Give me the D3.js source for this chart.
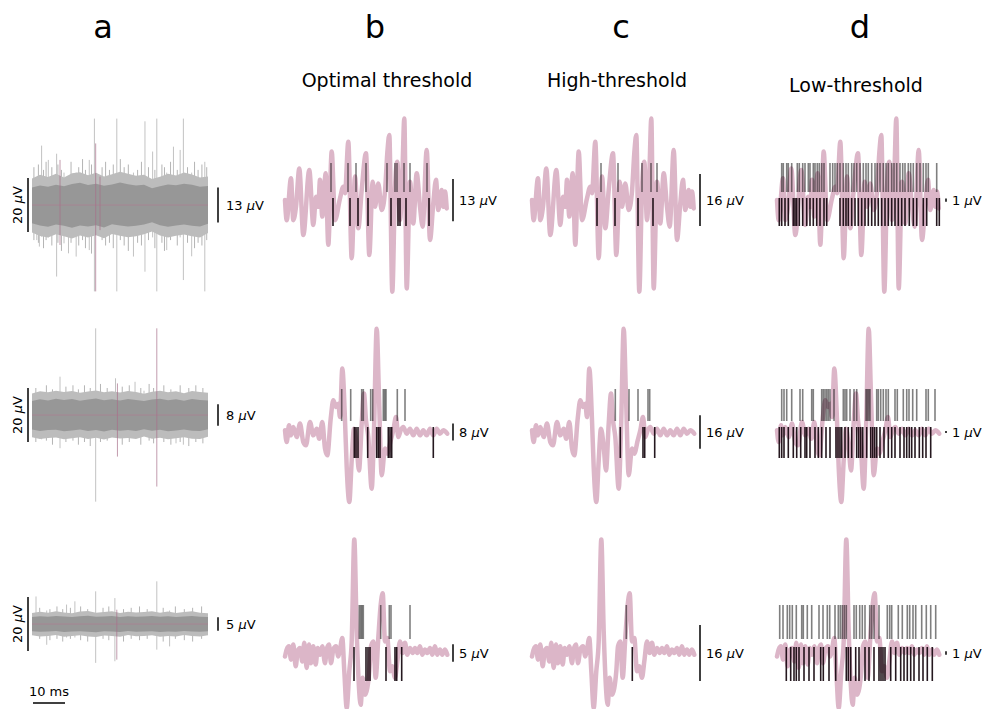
<!DOCTYPE html>
<html>
<head>
<meta charset="utf-8">
<script src="https://cdn.jsdelivr.net/npm/d3@7"></script>
<style>
  body { margin: 0; background: #fff; }
  text { font-family: "DejaVu Sans", sans-serif; fill: #000; }
</style>
</head>
<body>
<script>
'use strict';

// ---- data ----
// column a: noise band envelopes (uV) sampled every 2.5 ms
const noiseT = [0, 2.5, 5, 7.5, 10, 12.5, 15, 17.5, 20, 22.5, 25, 27.5, 30, 32.5, 35, 37.5, 40, 42.5, 45, 47.5, 50, 52.5, 55];
const innerHi1 = [6.5, 7.2, 6.8, 7.5, 6.9, 7.8, 8.2, 7.4, 7.9, 7.1, 7.6, 8.3, 7.7, 7.2, 7.5, 6.2, 6.9, 7.6, 7.3, 7.9, 7.5, 6.8, 7.0];
const innerLo1 = [-6.8, -7.6, -8.1, -7.2, -7.7, -8.4, -7.6, -8.0, -7.5, -8.3, -7.1, -7.6, -8.0, -7.7, -7.2, -6.4, -7.5, -8.1, -7.6, -7.2, -7.7, -8.0, -6.9];
const outerHi1 = [9.8, 11.2, 10.4, 11.6, 10.2, 11.8, 12.1, 11.0, 11.9, 10.6, 11.4, 12.3, 11.6, 10.8, 11.2, 9.6, 10.5, 11.6, 10.9, 12.0, 11.3, 10.2, 10.6];
const outerLo1 = [-10.2, -11.5, -12.0, -10.8, -11.6, -12.4, -11.3, -12.0, -11.2, -12.3, -10.7, -11.4, -11.9, -11.6, -10.8, -9.8, -11.3, -12.0, -11.4, -10.9, -11.6, -12.0, -10.4];
const innerHi2 = [5.2, 5.8, 5.4, 6.0, 5.6, 5.9, 5.3, 5.7, 6.1, 5.5, 5.8, 5.4, 5.9, 5.6, 5.2, 5.7, 6.0, 5.5, 5.8, 5.3, 5.9, 5.6, 5.4];
const innerLo2 = [-5.4, -5.9, -5.6, -5.5, -6.0, -5.7, -5.4, -5.9, -5.6, -6.1, -5.5, -5.8, -5.6, -5.9, -5.3, -5.8, -5.5, -6.0, -5.7, -5.4, -5.8, -5.9, -5.3];
const outerHi2 = [8.0, 8.8, 8.4, 9.0, 8.5, 8.9, 8.2, 8.7, 9.1, 8.4, 8.8, 8.3, 8.9, 8.5, 7.9, 8.6, 9.0, 8.4, 8.8, 8.1, 8.9, 8.5, 8.2];
const outerLo2 = [-8.2, -8.9, -8.5, -8.3, -9.0, -8.6, -8.2, -8.9, -8.4, -9.1, -8.3, -8.7, -8.5, -8.9, -8.0, -8.8, -8.4, -9.0, -8.6, -8.2, -8.8, -8.9, -8.1];
const innerHi3 = [2.6, 2.9, 2.7, 3.0, 2.8, 2.6, 2.9, 3.1, 2.7, 2.8, 3.0, 2.6, 2.9, 2.7, 2.8, 3.0, 2.7, 2.9, 2.6, 2.8, 3.0, 2.7, 2.6];
const innerLo3 = [-2.7, -2.9, -2.8, -2.6, -3.0, -2.8, -2.7, -2.9, -3.1, -2.7, -2.8, -3.0, -2.6, -2.9, -2.8, -2.7, -3.0, -2.8, -2.9, -2.6, -2.8, -2.9, -2.7];
const outerHi3 = [4.1, 4.5, 4.2, 4.7, 4.3, 4.0, 4.6, 4.8, 4.2, 4.4, 4.7, 4.1, 4.5, 4.3, 4.4, 4.7, 4.2, 4.6, 4.1, 4.4, 4.7, 4.2, 4.0];
const outerLo3 = [-4.2, -4.6, -4.4, -4.1, -4.7, -4.4, -4.2, -4.6, -4.8, -4.3, -4.4, -4.7, -4.1, -4.5, -4.4, -4.2, -4.7, -4.4, -4.6, -4.1, -4.4, -4.6, -4.2];

// column a: isolated excursions [t ms, top uV, bottom uV]
const spikesA1 = [[1.5, 9, -13], [2.3, 10, -15.4], [3.0, 22, -11.7], [5.1, 16.7, -12], [7.7, 19, -26.5], [10, 12, -14.2],
  [11.4, 10, -17.9], [13.8, 12, -19.1], [17.9, 16.7, -16.7], [19.5, 32, -32], [26.5, 32, -32], [31.7, 12, -19.1],
  [35.3, 31, -24.7], [37.7, 19.8, -12], [39, 32, -32], [42.1, 12, -16.7], [44.2, 21.6, -10], [46.3, 20.4, -12],
  [47.3, 32, -27.8], [49.9, 12, -19], [54, 16, -32]];
// short whiskers on the band edges
const whiskersA1 = [[0.6, 14, -13], [2.0, 15, -14], [3.6, 13, -16], [4.4, 16, -13], [6.2, 14, -15], [8.1, 15, -14],
  [9.2, 13, -17], [12.2, 16, -14], [14.6, 14, -15], [15.8, 17, -13], [16.7, 13, -16], [18.6, 15, -18], [21.9, 14, -13],
  [23.0, 16, -15], [24.2, 13, -14], [25.4, 15, -16], [27.6, 17, -13], [28.8, 14, -15], [30.1, 15, -17], [33.0, 13, -14],
  [34.2, 16, -15], [36.4, 14, -13], [38.4, 13, -16], [40.6, 15, -14], [41.4, 14, -17], [43.3, 16, -13], [45.4, 13, -15],
  [48.6, 14, -14], [50.8, 16, -16], [51.9, 13, -14], [53.1, 15, -15], [54.6, 14, -13]];
const spikesA2 = [[3, 8, -9], [8.75, 14.2, -12.3], [19.9, 32.1, -32.1], [26.1, 13.6, -8], [32.2, 12.3, -8], [35, 9, -6],
  [45, 8, -10.5], [47.3, 7, -11]];
const whiskersA2 = [[1.2, 10, -10], [4.5, 11, -9.5], [6.4, 9.5, -11], [10.6, 10.5, -10], [12.8, 11, -9.5], [14.5, 9.5, -11],
  [16.4, 11, -10], [18.2, 10, -11.5], [21.4, 11.5, -10], [23.5, 10, -9.5], [28.2, 10.5, -11], [30.4, 11, -10],
  [34.0, 10, -11], [36.6, 11.5, -9.5], [38.0, 10, -10.5], [41.2, 11, -10], [43.4, 9.5, -11], [46.3, 11, -10],
  [49.0, 10, -11.5], [51.2, 11, -10], [53.4, 10, -10.5]];
const spikesA3 = [[1.25, 10.2, -4], [4.6, 5, -7.7], [10.8, 7.2, -5], [13.4, 8.4, -5], [19.9, 12.1, -14.4], [25.9, 9.6, -13.8],
  [39, 15.8, -9.5], [43, 5, -8.3]];
const whiskersA3 = [[2.4, 6, -5.5], [5.6, 5.5, -6], [7.8, 6.5, -5.5], [9.6, 5.5, -6.5], [12.0, 6, -5.5], [15.2, 6.5, -6],
  [17.4, 5.5, -6.5], [22.2, 6, -5.5], [24.0, 6.5, -6], [28.6, 5.5, -6.5], [31.0, 6, -5.5], [33.6, 6.5, -6],
  [36.0, 5.5, -5.5], [41.0, 6, -6.5], [44.8, 6.5, -5.5], [47.6, 5.5, -6], [50.2, 6, -6.5], [53.0, 6.5, -5.5]];
const pinkA1 = [[8.75, 16.7, -14.8], [19.9, 22.8, -32], [21.25, 10.5, -9.3]];
const pinkA2 = [[26.7, 11.7, -15.4], [39, 32.1, -26.5]];
const pinkA3 = [[26.5, 5.3, -13.2]];

// columns b-d: average waveform per row [sample, uV]
const wave1 = [[0, 0], [1.7, -6.2], [6, 6.7], [8.3, -6.2], [11, -2.1], [14.3, 9.7], [18.3, -10.8], [24.3, 9.2], [28.3, -7.7],
  [31, 1.0], [33.3, -2.1], [35, 6.2], [37.3, -5.1], [40.7, 8.2], [43.3, -13.8], [46.7, 14.9], [50, -6.2], [55, 0.5],
  [58.3, 4.1], [60, 2.1], [63.3, 17.9], [66.7, -17.9], [70, 7.2], [73.3, -8.7], [76.7, 3.1], [81, 14.4], [84.3, -16.9],
  [87.7, 5.6], [90, -2.1], [93.3, 5.1], [96.7, -3.1], [100, 2.6], [102.3, 14.4], [104.3, 20], [107.3, -28.2], [110, 3.6],
  [112.3, 11.8], [115, -6.2], [117.3, 7.2], [119.3, 25.1], [121.7, -27.2], [125, 5.6], [128.3, -7.2], [131.7, 8.2],
  [135, -2.1], [137.7, -8.2], [141.7, 15.4], [145, -12.3], [148.3, -1.0], [151, 6.2], [153.3, -3.1], [156.7, 3.1],
  [158.3, -2.1], [160, 2.6], [161.7, -2.6]];
const wave2 = [[0, 0.8], [1.7, -4.8], [4, 3.2], [6, -1.6], [8.3, 2.4], [11.7, -2.4], [15, 4], [18.3, -4.8], [21, -6.3],
  [25, 4.8], [28.3, -1.6], [31.7, 1.6], [34.3, -3.2], [37.3, 4.8], [40, -7.9], [42.3, -11.1], [45.7, 6.3], [48.3, 15.1],
  [51, 11.9], [53.3, 13.5], [55, 7.1], [57.3, 30.2], [60, 5.6], [61.7, -16.7], [64.3, -33.3], [66.7, -13.5], [69, 1.6],
  [71.7, -7.1], [74, -18.3], [76.7, 4], [79, 18.3], [81, 5.6], [83.3, -2.4], [86.7, -27], [89, 0.8], [91.7, 49.2],
  [94, 16.7], [96.7, -20.6], [100, -7.9], [102.3, -10.3], [105.7, -4], [108.3, 0.8], [111, 7.1], [113.3, -2.4],
  [115.7, 0.8], [118.3, 2.4], [121.7, -0.8], [125, 1.6], [128.3, -1.6], [131.7, 1.6], [135, -1.6], [138.3, 0.8],
  [141.7, -1.6], [145, 1.6], [148.3, -1.6], [151.7, 1.6], [155, -0.8], [158.3, 0.8], [162.3, -0.8]];
const wave3 = [[0, -1.0], [1.7, 1.0], [4, 1.9], [6, -1.9], [8.3, 2.4], [10.7, -3.8], [12.7, 0.5], [15, 1.4], [17.3, -2.4],
  [19.3, 2.9], [21.7, -4.3], [24, 2.4], [26, -2.9], [28.3, 1.9], [30.7, -3.3], [32.7, 1.4], [35, -0.5], [37.3, 1.9],
  [40, -2.9], [41.7, 1.0], [44, 2.4], [46, -2.9], [48.3, 1.0], [51, 1.9], [53.3, -1.0], [55, 1.0], [57.3, 4.3],
  [59.3, -5.2], [61.7, -15.7], [64.3, -5.2], [66.7, 3.3], [69.3, 32.4], [71.7, 6.2], [74, -10.0], [75.7, -14.8],
  [77.7, -7.1], [80, -11.9], [82.3, -10.0], [84.3, -5.2], [86, 1.9], [88.3, 3.3], [90.7, -7.1], [93.3, 4.3], [95.7, 13.8],
  [97.7, 17.1], [100, 3.3], [102.3, 4.3], [105, -5.2], [107.3, -3.8], [110, -7.1], [112.3, -2.4], [115, 3.3],
  [117.7, 0], [120, 2.9], [122.3, -0.5], [125, 1.4], [127.7, 0], [130, 1.4], [132.3, 0], [135, 1.9], [137.3, -0.5],
  [140, 1.0], [142.3, 0], [145, 1.4], [147.3, -0.5], [150, 1.9], [152.3, -0.5], [155, 1.0], [157.3, -0.5], [160, 1.0],
  [162.3, -0.5]];

// detected spike times (samples): [upper grey raster, lower black raster] per row
const optimalTicks = [
  [[46, 63, 71, 81, 102, 110, 112, 119, 125, 142], [48, 65, 73, 83, 106, 113, 115, 121, 144]],
  [[56.7, 65.7, 76.7, 78.3, 85.7, 87.7, 98.3, 99.7, 101, 112.3, 120], [69.3, 71, 73, 82.7, 91.7, 93.3, 95, 103.3, 105, 106.7, 148.3]],
  [[74.3, 75.7, 77, 78.3, 95.7, 104.3, 106, 125], [69, 81, 83, 85, 101, 110, 111.7, 116.7]]
];
const highTicks = [
  [[69, 86, 110, 119, 125], [65, 83, 106, 121]],
  [[83.3, 97, 106, 116, 117.7], [88.3, 111, 112.7, 122.7]],
  [[94.3], [100.3]]
];
const lowTicks = [
  [[4.7, 6.3, 9.7, 11.3, 14.7, 20.3, 22.3, 25.7, 28, 31.3, 33, 36.3, 38, 40.3, 42.3, 44.7, 47, 53, 55.7, 58, 60.3, 63,
    66.3, 69, 71.3, 74.7, 77, 79.7, 83, 86.3, 89, 91.3, 94.7, 98, 100.3, 103, 106.3, 109, 111.3, 114.7, 117, 119.7, 123,
    125.7, 128, 131.3, 133.7, 136.3, 139.7, 143, 146.3, 149, 151.3, 159.7],
   [2.3, 4.7, 8, 11.3, 16.3, 18, 19.7, 22.3, 25.7, 29.7, 33, 36.3, 39.7, 43, 47, 49.7, 63, 66.3, 69, 71.3, 74.7, 78, 81.3,
    84.7, 88, 91.3, 94.7, 98, 101.3, 104.7, 108, 111.3, 114.7, 118, 121.3, 124.7, 128, 132.3, 136.3, 139.7, 146.3, 149.7,
    159.7, 162.3]],
  [[4.7, 7, 9.7, 14.7, 23, 25.7, 34.7, 36.3, 44.7, 46.3, 48, 49.7, 51.3, 53, 57, 66.3, 68, 69.7, 73, 77, 79.7, 89, 90.3,
    91.7, 93, 99.7, 101.3, 103.7, 106.3, 109, 111.3, 118, 120.3, 126.3, 129.7, 132, 135.7, 139.7, 149, 151.3, 158],
   [2.3, 4.7, 7, 11.3, 16.3, 19.7, 23.7, 28, 29.7, 33, 38, 41.3, 44.7, 49, 53, 59, 61, 63, 64.7, 68, 71.3, 74.7, 79.7,
    81.7, 83.7, 85.7, 89.7, 93.7, 95.7, 97.7, 99.7, 103, 107, 111.3, 114.7, 118, 123, 127, 129.7, 132.3, 134.7, 138,
    142.3, 145.7, 149, 153.7]],
  [[2.7, 6, 10.3, 12.7, 15.3, 19.3, 24.7, 26.3, 30.3, 34.7, 42, 46, 50.3, 52.7, 58, 61.3, 63.3, 65.3, 67.3, 69.3, 77,
    79.3, 82.7, 85.3, 88, 92.7, 94.7, 97, 102, 110.3, 112.7, 114.7, 121.3, 125.3, 130.3, 132.7, 136, 138.7, 144.7,
    149.3, 153.7, 158.7],
   [9.3, 13.7, 17, 19.3, 22, 27, 32, 37, 43.7, 46.3, 52, 58.7, 69.3, 71.3, 73.7, 78.7, 82, 88, 92, 97, 102, 104, 106,
    108, 113.7, 118.7, 123.7, 127, 130.3, 133.7, 137, 142, 146, 150.3, 155.3]]
];

// scale-bar values (uV)
const barsA = [13, 8, 5];
const barsOptimal = [13, 8, 5];
const barsHigh = [16, 16, 16];
const barsLow = [1, 1, 1];
const panelLetters = ['a', 'b', 'c', 'd'];
const panelTitles = ['', 'Optimal threshold', 'High-threshold', 'Low-threshold'];

// ---- layout ----
const W = 987, H = 709;
const svg = d3.select('body').append('svg')
  .attr('width', W)
  .attr('height', H);
svg.append('rect').attr('width', W).attr('height', H).attr('fill', '#fff');

const pink = '#dcb6c8';
const rowA = [205, 415, 624];      // col a baselines
const rowW = [200, 432, 653];      // col b-d baselines
const gainA = 2.7;                 // px per uV in col a
const gainW = [3.25, 2.1, 3.5];    // px per uV per row, cols b-d
const greyTick = [[-37, -8], [-43, -11], [-48, -14]];
const blackTick = [[-2, 26], [-5, 26], [-6, 28]];
const colStart = [285, 532, 777];
const barX = [453, 700, 946];

// titles
const letterX = [103, 375, 621, 860];
panelLetters.forEach((l, i) => {
  svg.append('text').attr('x', letterX[i]).attr('y', 38)
    .attr('text-anchor', 'middle').style('font-size', '32px').text(l);
});
const titleX = [0, 387, 617, 856];
const titleY = [0, 87, 87, 92];
panelTitles.forEach((t, i) => {
  if (!t) return;
  svg.append('text').attr('x', titleX[i]).attr('y', titleY[i])
    .attr('text-anchor', 'middle').style('font-size', '19px').text(t);
});

function uvLabel(x, y, val, rotate) {
  const t = svg.append('text')
    .attr('x', x).attr('y', y)
    .attr('dy', '0.36em')
    .style('font-size', '13px');
  if (rotate) {
    t.attr('transform', 'rotate(-90,' + x + ',' + y + ')').attr('text-anchor', 'middle');
  }
  t.append('tspan').text(val + ' ');
  t.append('tspan').style('font-style', 'italic').text('\u03bc');
  t.append('tspan').text('V');
}

// ---- column a: raw traces ----
const xA = d3.scaleLinear().domain([0, 55]).range([32, 208]);
const noiseRows = [
  [innerHi1, innerLo1, outerHi1, outerLo1, spikesA1, pinkA1, whiskersA1],
  [innerHi2, innerLo2, outerHi2, outerLo2, spikesA2, pinkA2, whiskersA2],
  [innerHi3, innerLo3, outerHi3, outerLo3, spikesA3, pinkA3, whiskersA3]
];

noiseRows.forEach((r, i) => {
  const y = d3.scaleLinear().domain([-1, 1]).range([rowA[i] + gainA, rowA[i] - gainA]);
  const g = svg.append('g');
  const band = (hi, lo) => d3.area()
    .x((d, k) => xA(noiseT[k]))
    .y0((d, k) => y(lo[k]))
    .y1((d, k) => y(hi[k]))(noiseT);

  // light spikes
  g.selectAll('.sp').data(r[4]).enter().append('line')
    .attr('x1', d => xA(d[0])).attr('x2', d => xA(d[0]))
    .attr('y1', d => y(d[1])).attr('y2', d => y(d[2]))
    .attr('stroke', '#c2c2c2').attr('stroke-width', 1);
  g.selectAll('.wk').data(r[6]).enter().append('line')
    .attr('x1', d => xA(d[0])).attr('x2', d => xA(d[0]))
    .attr('y1', d => y(d[1])).attr('y2', d => y(d[2]))
    .attr('stroke', '#b4b4b4').attr('stroke-width', 1);

  g.append('path').attr('d', band(r[2], r[3])).attr('fill', '#bcbcbc');
  g.append('path').attr('d', band(r[0], r[1])).attr('fill', '#979797');

  // mean line and detected spikes
  g.append('line').attr('x1', xA(0)).attr('x2', xA(55))
    .attr('y1', y(0)).attr('y2', y(0))
    .attr('stroke', '#b07891').attr('stroke-width', 1).attr('stroke-opacity', 0.6);
  g.selectAll('.pk').data(r[5]).enter().append('line')
    .attr('x1', d => xA(d[0])).attr('x2', d => xA(d[0]))
    .attr('y1', d => y(d[1])).attr('y2', d => y(d[2]))
    .attr('stroke', '#a8708a').attr('stroke-width', 1).attr('stroke-opacity', 0.7);

  // 20 uV bar
  svg.append('line').attr('x1', 28).attr('x2', 28)
    .attr('y1', y(10)).attr('y2', y(-10))
    .attr('stroke', '#000').attr('stroke-width', 1.5);
  uvLabel(17, rowA[i], 20, true);

  // threshold bar
  svg.append('line').attr('x1', 218).attr('x2', 218)
    .attr('y1', y(barsA[i] / 2)).attr('y2', y(-barsA[i] / 2))
    .attr('stroke', '#000').attr('stroke-width', 1.5);
  uvLabel(226, rowA[i], barsA[i], false);
});

// 10 ms scale bar
svg.append('line').attr('x1', xA(0) + 1).attr('x2', xA(10) + 1)
  .attr('y1', 703).attr('y2', 703)
  .attr('stroke', '#000').attr('stroke-width', 1.5);
svg.append('text').attr('x', xA(5) + 1).attr('y', 696)
  .attr('text-anchor', 'middle').style('font-size', '13px').text('10 ms');

// ---- columns b-d: waveform with spike rasters ----
const waves = [wave1, wave2, wave3];
const tickSets = [optimalTicks, highTicks, lowTicks];
const barSets = [barsOptimal, barsHigh, barsLow];

tickSets.forEach((ticks, c) => {
  waves.forEach((wave, i) => {
    const x = d3.scaleLinear().domain([0, 162]).range([colStart[c], colStart[c] + 162]);
    const y = d3.scaleLinear().domain([-1, 1]).range([rowW[i] + gainW[i], rowW[i] - gainW[i]]);
    const g = svg.append('g');

    g.append('path')
      .attr('d', d3.line().x(d => x(d[0])).y(d => y(d[1])).curve(d3.curveMonotoneX)(wave))
      .attr('fill', 'none')
      .attr('stroke', pink)
      .attr('stroke-width', 4.5)
      .attr('stroke-linejoin', 'round')
      .attr('stroke-linecap', 'round');

    g.selectAll('.gt').data(ticks[i][0]).enter().append('line')
      .attr('x1', d => x(d)).attr('x2', d => x(d))
      .attr('y1', rowW[i] + greyTick[i][0]).attr('y2', rowW[i] + greyTick[i][1])
      .attr('stroke', '#000').attr('stroke-opacity', 0.5).attr('stroke-width', 1.6);
    g.selectAll('.bt').data(ticks[i][1]).enter().append('line')
      .attr('x1', d => x(d)).attr('x2', d => x(d))
      .attr('y1', rowW[i] + blackTick[i][0]).attr('y2', rowW[i] + blackTick[i][1])
      .attr('stroke', '#12040c').attr('stroke-opacity', 0.92).attr('stroke-width', 1.6);

    const v = barSets[c][i];
    svg.append('line').attr('x1', barX[c]).attr('x2', barX[c])
      .attr('y1', y(v / 2)).attr('y2', y(-v / 2))
      .attr('stroke', '#000').attr('stroke-width', 1.5);
    uvLabel(barX[c] + 6, rowW[i], v, false);
  });
});
</script>
</body>
</html>
